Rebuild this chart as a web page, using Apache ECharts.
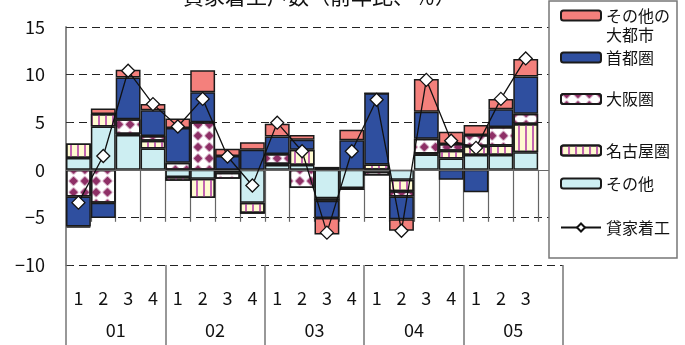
<!DOCTYPE html>
<html>
<head>
<meta charset="utf-8">
<script src="https://cdn.jsdelivr.net/npm/echarts@6/dist/echarts.min.js"></script>
<style>
html,body{margin:0;padding:0;background:#fff;}
#chart{width:685px;height:345px;}
</style>
</head>
<body>
<div id="chart"></div>
<script>
// ---- data ----
const quarters = ['1','2','3','4','1','2','3','4','1','2','3','4','1','2','3','4','1','2','3',''];
const years = ['01','02','03','04','05'];
const sonota      = [1.25, 4.55, 3.65, 2.25, -0.75, -0.95, 0, -3.45, 0.5, 0.5, -3.0, -1.9, -0.2, -1.05, 1.6, 1.2, 1.55, 1.55, 1.85, null];
const nagoya      = [1.5, 1.3, 0.1, 0.8, -0.4, -2.0, -0.3, -1.1, 0.1, 1.6, -0.25, -0.15, 0.55, -1.2, 0.1, 0.8, 0.95, 1.0, 2.95, null];
const osaka       = [-2.8, -3.45, 1.55, 0.5, 0.75, 5.0, -0.65, 0, 1.05, -1.9, 0.3, 0, -0.4, -0.55, 1.55, 0.7, 1.15, 1.95, 1.1, null];
const shutoken    = [-3.15, -1.6, 4.4, 2.7, 3.65, 3.15, 1.45, 2.1, 1.85, 1.05, -1.8, 3.1, 7.5, -2.4, 2.85, -1.05, -2.35, 1.85, 3.9, null];
const otherCities = [-0.1, 0.6, 0.8, 0.65, 1.0, 2.3, 0.75, 0.8, 1.35, 0.5, -1.75, 1.1, 0, -1.2, 3.45, 1.3, 1.05, 1.1, 1.85, null];
const kashiya     = [-3.45, 1.45, 10.4, 6.9, 4.55, 7.45, 1.4, -1.65, 4.95, 1.95, -6.6, 1.95, 7.35, -6.4, 9.45, 3.05, 2.3, 7.45, 11.7, null];
const yTicks = {min: -10, max: 15, interval: 5};

const FONT = "'Noto Sans CJK JP', sans-serif";
const chart = echarts.init(document.getElementById('chart'), null, {renderer: 'canvas'});

const border = {borderColor: '#1a1a1a', borderWidth: 1.5};
function barSeries(name, data, itemStyle, extra) {
  return Object.assign({
    name: name, type: 'bar', stack: 'total', data: data,
    barCategoryGap: '0%', xAxisIndex: 0,
    itemStyle: Object.assign({}, border, itemStyle)
  }, extra || {});
}

function legendItem(name, top) {
  return {
    data: [name], left: 560, top: top, padding: 0,
    itemWidth: 40, itemHeight: 10, itemGap: 0,
    orient: 'vertical', selectedMode: false, z: 20,
    formatter: function (n) { return n === 'その他の大都市' ? ' \nその他の\n大都市' : n; },
    textStyle: {fontFamily: FONT, fontSize: 16, color: '#111', lineHeight: 19}
  };
}

const option = {
  animation: false,
  backgroundColor: '#fff',
  grid: {left: 66, top: 27, right: 122, bottom: 80, containLabel: false},
  graphic: [
    {type: 'text', left: 183, top: -14, z: 5,
     style: {text: '貸家着工戸数（前年比、％）', font: '21px ' + FONT, fill: '#111'}},
    {type: 'rect', z: 15, shape: {x: 549, y: 1, width: 128, height: 257},
     style: {fill: '#fff', stroke: '#777', lineWidth: 1.5}}
  ],
  legend: [
    legendItem('その他の大都市', -13),
    legendItem('首都圏', 48),
    legendItem('大阪圏', 89.5),
    legendItem('名古屋圏', 141),
    legendItem('その他', 174),
    legendItem('貸家着工', 218)
  ],
  xAxis: [
    {
      type: 'category', data: quarters, position: 'bottom', boundaryGap: true,
      axisLine: {show: false},
      axisTick: {show: true, interval: 0, length: 52, lineStyle: {color: '#666', width: 1.2}},
      axisLabel: {interval: 0, margin: 24, fontFamily: FONT, fontSize: 18, color: '#111'},
      splitLine: {show: false}
    },
    {
      type: 'category', data: years, position: 'bottom', boundaryGap: true,
      axisLine: {show: false},
      axisTick: {show: true, interval: 0, length: 80, lineStyle: {color: '#777', width: 1.5}},
      axisLabel: {interval: 0, margin: 56, fontFamily: FONT, fontSize: 18, color: '#111'},
      splitLine: {show: false}
    }
  ],
  yAxis: {
    type: 'value', min: yTicks.min, max: yTicks.max, interval: yTicks.interval,
    axisLine: {show: true, lineStyle: {color: '#8c8c8c', width: 2}},
    axisTick: {show: true, inside: true, length: 6, lineStyle: {color: '#333'}},
    axisLabel: {margin: 21, fontFamily: FONT, fontSize: 18, color: '#111',
      formatter: function (v) { return v < 0 ? '\u2212' + Math.abs(v) : String(v); }},
    splitLine: {show: true, lineStyle: {color: '#222', type: [8, 5], width: 1}}
  },
  series: [
    barSeries('その他', sonota, {color: '#cdeef2'}, {
      markLine: {silent: true, symbol: 'none', label: {show: false},
        lineStyle: {color: '#666', type: 'solid', width: 1},
        data: [{yAxis: 0}]}
    }),
    barSeries('名古屋圏', nagoya, {color: '#fffbd0',
      decal: {symbol: 'rect', symbolSize: 1, symbolKeepAspect: false, color: '#c265b0',
        dashArrayX: [2, 4.5], dashArrayY: [10, 0], rotation: 0}}),
    barSeries('大阪圏', osaka, {color: '#ffffff',
      decal: {symbol: 'rect', symbolSize: 0.85, symbolKeepAspect: false, color: '#8e2f66',
        dashArrayX: [[8, 8], [0, 8, 8, 0]], dashArrayY: [8, 0], rotation: Math.PI / 4}}),
    barSeries('首都圏', shutoken, {color: '#2f4f9f'}),
    barSeries('その他の大都市', otherCities, {color: '#f4807c'}),
    {
      name: '貸家着工', type: 'line', data: kashiya, xAxisIndex: 0, z: 10,
      symbol: 'diamond', symbolSize: 13,
      itemStyle: {color: '#fff', borderColor: '#111', borderWidth: 1.3},
      lineStyle: {color: '#111', width: 1.3}
    }
  ]
};
chart.setOption(option);
</script>
</body>
</html>
